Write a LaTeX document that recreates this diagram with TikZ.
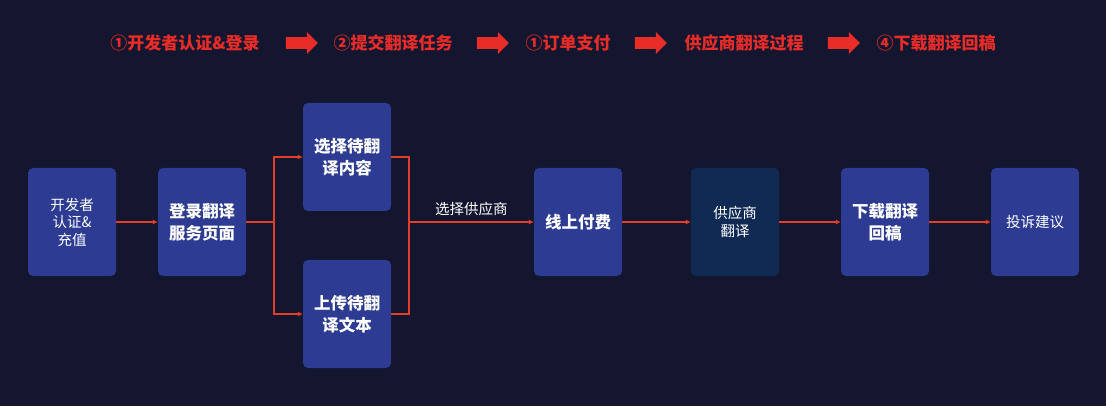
\documentclass[tikz,border=0pt]{standalone}
\usepackage{fontspec}
\setmainfont{Noto Sans CJK SC}
\usepackage{xcolor}
\usepackage{tikz}
\usetikzlibrary{arrows.meta,shapes.arrows}
\definecolor{bgNavy}{RGB}{19,22,46}
\definecolor{boxBlue}{RGB}{45,60,146}
\definecolor{boxDeep}{RGB}{16,42,84}
\definecolor{lineRed}{RGB}{228,62,40}
\definecolor{headRed}{RGB}{232,44,40}
\newcommand{\boxWidth}{88}
\newcommand{\boxHeight}{108}
\newcommand{\rowY}{222}
\newcommand{\titleY}{43}
\newcommand{\flowBold}{\bfseries\fontsize{16.5}{22}\selectfont}
\newcommand{\flowPlain}{\fontsize{14.5}{17.5}\selectfont}
\newcommand{\stepTitles}{185/{①开发者认证\&登录}, 393/②提交翻译任务, 568/①订单支付, 744/供应商翻译过程, 936/④下载翻译回稿}
\newcommand{\stepArrows}{299, 490, 648, 841}
\tikzset{
	stepTitle/.style={text=headRed, font=\bfseries\fontsize{17}{20}\selectfont, inner sep=0pt},
	stepArrow/.style={single arrow, fill=headRed, minimum height=32pt, minimum width=22pt, single arrow head extend=5pt, inner xsep=0pt, inner ysep=5.5pt},
	flowBox/.style={rounded corners=5pt, fill=boxBlue, minimum width=\boxWidth pt, minimum height=\boxHeight pt, text=white, align=center, inner sep=0pt, font=\flowBold},
	flowLine/.style={draw=lineRed, line width=1.4pt, -{Latex[length=5pt,width=5pt]}}
}
\begin{document}
\begin{tikzpicture}[x=1pt, y=-1pt]
	\fill[bgNavy] (0,0) rectangle (1106,406);
	\useasboundingbox (0,0) rectangle (1106,406);

	\foreach \xPos/\name [count=\i] in \stepTitles
	{
		\node[stepTitle] (title\i) at (\xPos,\titleY) {\name};
	}
	\foreach \xPos [count=\i] in \stepArrows
	{
		\node[stepArrow] (arrow\i) at (\xPos,\titleY) {};
	}

	% boxes
	\node[flowBox, font=\flowPlain] (certify) at (72,\rowY) {开发者\\认证\&\\充值};
	\node[flowBox] (login) at (202,\rowY) {登录翻译\\服务页面};
	\node[flowBox] (pick) at (347,157) {选择待翻\\译内容};
	\node[flowBox] (upload) at (347,314) {上传待翻\\译文本};
	\node[flowBox] (pay) at (578,\rowY) {线上付费};
	\node[flowBox, fill=boxDeep, font=\flowPlain] (vendor) at (735,\rowY) {供应商\\翻译};
	\node[flowBox] (download) at (885,\rowY) {下载翻译\\回稿};
	\node[flowBox, font=\flowPlain] (complain) at (1035,\rowY) {投诉建议};

	\coordinate (split) at (274,\rowY);
	\coordinate (merge) at (409,\rowY);

	\draw[flowLine] (certify) -- (login);
	\draw[flowLine, -] (login) -- (split);
	\draw[flowLine] (split) |- (pick.west);
	\draw[flowLine] (split) |- (upload.west);
	\draw[flowLine, -] (pick.east) -| (merge);
	\draw[flowLine, -] (upload.east) -| (merge);
	\draw[flowLine] (merge) -- (pay) node[midway, above=6pt, text=white, font=\flowPlain, inner sep=0pt] (vendorPick) {选择供应商};
	\draw[flowLine] (pay) -- (vendor);
	\draw[flowLine] (vendor) -- (download);
	\draw[flowLine] (download) -- (complain);
\end{tikzpicture}
\end{document}
